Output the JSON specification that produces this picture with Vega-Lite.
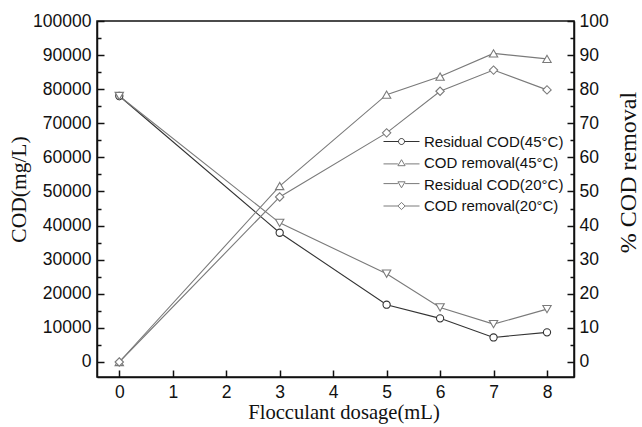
{
  "$schema": "https://vega.github.io/schema/vega-lite/v6.json",
  "width": 477,
  "height": 356,
  "autosize": {"type": "none"},
  "padding": {"left": 97, "top": 21, "right": 68, "bottom": 50},
  "background": "white",
  "config": {
    "view": {"stroke": "#111", "strokeWidth": 1.5},
    "axis": {
      "grid": false,
      "domainColor": "#111",
      "domainWidth": 1.5,
      "tickColor": "#111",
      "tickWidth": 1.5,
      "labelFont": "Liberation Sans",
      "labelFontSize": 17.5,
      "labelColor": "#111",
      "titleFont": "Liberation Serif",
      "titleFontWeight": "normal",
      "titleColor": "#111"
    }
  },
  "layer": [
    {
      "data": {
        "values": [
          {"x": 0, "series": "Residual COD(45°C)", "cod": 78000},
          {"x": 3, "series": "Residual COD(45°C)", "cod": 37900},
          {"x": 5, "series": "Residual COD(45°C)", "cod": 16800},
          {"x": 6, "series": "Residual COD(45°C)", "cod": 12800},
          {"x": 7, "series": "Residual COD(45°C)", "cod": 7200},
          {"x": 8, "series": "Residual COD(45°C)", "cod": 8700},
          {"x": 0, "series": "Residual COD(20°C)", "cod": 78000},
          {"x": 3, "series": "Residual COD(20°C)", "cod": 40800},
          {"x": 5, "series": "Residual COD(20°C)", "cod": 25900},
          {"x": 6, "series": "Residual COD(20°C)", "cod": 16000},
          {"x": 7, "series": "Residual COD(20°C)", "cod": 11100},
          {"x": 8, "series": "Residual COD(20°C)", "cod": 15500}
        ]
      },
      "encoding": {
        "x": {
          "field": "x", "type": "quantitative",
          "scale": {"domain": [-0.417, 8.505], "nice": false, "zero": false},
          "axis": {
            "title": "Flocculant dosage(mL)",
            "titleFontSize": 20.6,
            "titleX": 246.5,
            "values": [0, 0.5, 1, 1.5, 2, 2.5, 3, 3.5, 4, 4.5, 5, 5.5, 6, 6.5, 7, 7.5, 8],
            "labelExpr": "datum.value % 1 === 0 ? datum.label : ''",
            "tickSize": {"condition": {"test": "datum.value % 1 === 0", "value": -7}, "value": -4},
            "labelPadding": 13,
            "titlePadding": 2
          }
        },
        "y": {
          "field": "cod", "type": "quantitative",
          "scale": {"domain": [-4400, 100000], "nice": false, "zero": false},
          "axis": {
            "title": "COD(mg/L)",
            "titleFontSize": 21.5,
            "titleY": 168,
            "values": [0, 5000, 10000, 15000, 20000, 25000, 30000, 35000, 40000, 45000, 50000, 55000, 60000, 65000, 70000, 75000, 80000, 85000, 90000, 95000, 100000],
            "labelExpr": "datum.value % 10000 === 0 ? datum.value : ''",
            "tickSize": {"condition": {"test": "datum.value % 10000 === 0", "value": -7}, "value": -4},
            "labelPadding": 13,
            "titlePadding": 2
          }
        },
        "color": {
          "field": "series", "type": "nominal",
          "scale": {
            "domain": ["Residual COD(45°C)", "COD removal(45°C)", "Residual COD(20°C)", "COD removal(20°C)"],
            "range": ["#333333", "#7a7a7a", "#7a7a7a", "#7a7a7a"]
          },
          "legend": {
            "orient": "none", "legendX": 297, "legendY": 113, "title": null,
            "labelFont": "Liberation Sans", "labelFontSize": 15, "labelColor": "#111",
            "symbolSize": 36, "symbolFillColor": "white", "symbolStrokeWidth": 1,
            "labelOffset": 15, "rowPadding": 5.5,
            "encode": {
              "symbols": {
                "update": {
                  "shape": {"signal": "datum.value === 'Residual COD(45°C)' ? 'M-6,0H-1M1,0H6M-1,0A1,1,0,1,1,1,0A1,1,0,1,1,-1,0' : datum.value === 'COD removal(45°C)' ? 'M-6,0.3H-1.2M1.2,0.3H6M0,-1.1L1.2,0.9L-1.2,0.9Z' : datum.value === 'Residual COD(20°C)' ? 'M-6,-0.3H-1.2M1.2,-0.3H6M0,1.1L1.2,-0.9L-1.2,-0.9Z' : 'M-6,0H-1.2M1.2,0H6M0,-1.2L1.2,0L0,1.2L-1.2,0Z'"},
                  "fill": {"value": "white"},
                  "strokeWidth": {"value": 1}
                }
              }
            }
          }
        }
      },
      "layer": [
        {"mark": {"type": "line", "strokeWidth": 1.1}},
        {
          "transform": [{"filter": "datum.series === 'Residual COD(45°C)'"}],
          "mark": {"type": "point", "shape": "circle", "size": 52, "fill": "white", "strokeWidth": 1.1, "opacity": 1}
        },
        {
          "transform": [{"filter": "datum.series === 'Residual COD(20°C)'"}],
          "mark": {"type": "point", "shape": "triangle-down", "size": 70, "fill": "white", "strokeWidth": 1.1, "opacity": 1}
        }
      ]
    },
    {
      "data": {
        "values": [
          {"x": 0, "series": "COD removal(45°C)", "pct": 0},
          {"x": 3, "series": "COD removal(45°C)", "pct": 51.6},
          {"x": 5, "series": "COD removal(45°C)", "pct": 78.4},
          {"x": 6, "series": "COD removal(45°C)", "pct": 83.7},
          {"x": 7, "series": "COD removal(45°C)", "pct": 90.5},
          {"x": 8, "series": "COD removal(45°C)", "pct": 88.9},
          {"x": 0, "series": "COD removal(20°C)", "pct": 0},
          {"x": 3, "series": "COD removal(20°C)", "pct": 48.4},
          {"x": 5, "series": "COD removal(20°C)", "pct": 67.2},
          {"x": 6, "series": "COD removal(20°C)", "pct": 79.4},
          {"x": 7, "series": "COD removal(20°C)", "pct": 85.6},
          {"x": 8, "series": "COD removal(20°C)", "pct": 79.8}
        ]
      },
      "encoding": {
        "x": {"field": "x", "type": "quantitative"},
        "y": {
          "field": "pct", "type": "quantitative",
          "scale": {"domain": [-4.4, 100], "nice": false, "zero": false},
          "axis": {
            "orient": "right",
            "title": "% COD removal",
            "titleFontSize": 24,
            "titleAngle": 270,
            "titleX": 61,
            "titleY": 151,
            "titleAlign": "center",
            "titleBaseline": "alphabetic",
            "values": [0, 5, 10, 15, 20, 25, 30, 35, 40, 45, 50, 55, 60, 65, 70, 75, 80, 85, 90, 95, 100],
            "labelExpr": "datum.value % 10 === 0 ? datum.value : ''",
            "tickSize": {"condition": {"test": "datum.value % 10 === 0", "value": -7}, "value": -4},
            "labelPadding": 12
          }
        },
        "color": {"field": "series", "type": "nominal"}
      },
      "layer": [
        {"mark": {"type": "line", "strokeWidth": 1.1}},
        {
          "transform": [{"filter": "datum.series === 'COD removal(45°C)'"}],
          "mark": {"type": "point", "shape": "triangle-up", "size": 70, "fill": "white", "strokeWidth": 1.1, "opacity": 1}
        },
        {
          "transform": [{"filter": "datum.series === 'COD removal(20°C)'"}],
          "mark": {"type": "point", "shape": "diamond", "size": 70, "fill": "white", "strokeWidth": 1.1, "opacity": 1}
        }
      ]
    }
  ],
  "resolve": {"scale": {"y": "independent"}}
}
